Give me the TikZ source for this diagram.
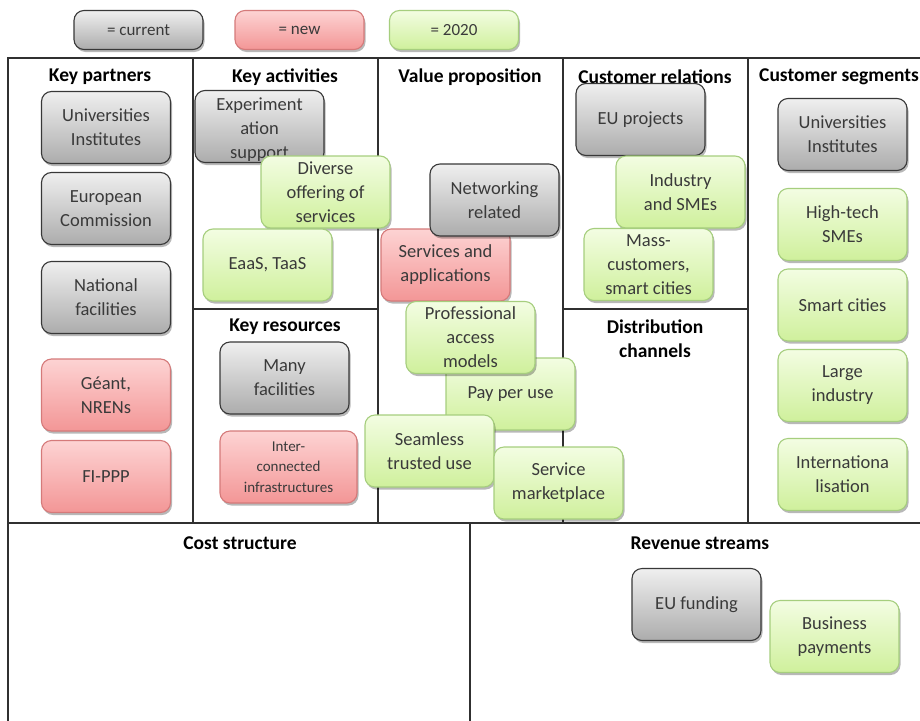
\documentclass[tikz,border=0pt]{standalone}
\usepackage{fontspec}
\setmainfont{Carlito}
\usetikzlibrary{shadows}

\definecolor{gridline}{HTML}{303030}
\definecolor{txt}{HTML}{3A3A3A}
\definecolor{curtop}{HTML}{EFEFEF}
\definecolor{curbot}{HTML}{ACACAC}
\definecolor{curdraw}{HTML}{383838}
\definecolor{newtop}{HTML}{FDD3D3}
\definecolor{newbot}{HTML}{F39696}
\definecolor{newdraw}{HTML}{D57A7A}
\definecolor{futtop}{HTML}{F3FDE2}
\definecolor{futbot}{HTML}{CFF09C}
\definecolor{futdraw}{HTML}{A6CE7E}

\tikzset{
  cardtext/.style={align=center, text=txt, font=\fontsize{18.5}{24}\selectfont},
  card/.style={cardtext, rounded corners=10pt, minimum width=129pt, minimum height=72pt,
    inner sep=2pt, line width=1.1pt,
    drop shadow={shadow xshift=1.5pt, shadow yshift=-2.5pt, opacity=0.28, fill=black}},
  cur/.style={card, draw=curdraw, top color=curtop, bottom color=curbot},
  new/.style={card, draw=newdraw, top color=newtop, bottom color=newbot},
  fut/.style={card, draw=futdraw, top color=futtop, bottom color=futbot},
  legend/.style={minimum height=39pt, font=\fontsize{17}{20}\selectfont},
  head/.style={font=\bfseries\fontsize{19.5}{24}\selectfont, text=black, align=center, inner sep=0pt},
  grid/.style={draw=gridline, line width=1.4pt}
}

\begin{document}
\begin{tikzpicture}[x=1pt, y=-1pt]
\useasboundingbox[fill=white] (0,0) rectangle (920,720);

% legend
\node[cur, legend] (lcur) at (138.5,30) {= current};
\node[new, legend] (lnew) at (299.5,30) {= new};
\node[fut, legend] (lfut) at (454,30) {= 2020};

% canvas frame
\coordinate (tl) at (8,58);
\coordinate (tr) at (925,58);
\coordinate (ml) at (8,523);
\coordinate (mr) at (925,523);
\coordinate (bl) at (8,725);
\draw[grid] (bl) -- (tl) -- (tr);
\draw[grid] (ml) -- (mr);
\draw[grid] (193,58) -- (193,523);
\draw[grid] (378,58) -- (378,523);
\draw[grid] (563,58) -- (563,523);
\draw[grid] (748,58) -- (748,523);
\draw[grid] (193,309) -- (378,309);
\draw[grid] (563,309) -- (748,309);
\draw[grid] (470,523) -- (470,725);

% headings
\node[head] (hkp) at (100,77) {Key partners};
\node[head] (hka) at (285,77) {Key activities};
\node[head] (hvp) at (470,77) {Value proposition};
\node[head] (hcr) at (655,77) {Customer relations};
\node[head, anchor=west] (hcs) at (759,77) {Customer segments};
\node[head] (hkr) at (285,327) {Key resources};
\node[head] (hdc) at (655,339) {Distribution\\channels};
\node[head] (hcost) at (240,543) {Cost structure};
\node[head] (hrev) at (700,543) {Revenue streams};

% key partners
\node[cur] (kp1) at (106,127.5) {Universities\\Institutes};
\node[cur] (kp2) at (106,208.5) {European\\Commission};
\node[cur] (kp3) at (106,297.5) {National\\facilities};
\node[new] (kp4) at (106,395) {Géant,\\NRENs};
\node[new] (kp5) at (106,476.5) {FI-PPP};

% key activities (the first card's text runs low, under the next card)
\node[cur] (ka1) at (259.5,126.5) {};
\node[cardtext] (ka1t) at (259.5,129.5) {Experiment\\ation\\support};
\node[fut] (ka2) at (325.5,192) {Diverse\\offering of\\services};
\node[fut] (ka3) at (267.5,265) {EaaS, TaaS};

% key resources
\node[cur] (kr1) at (284.5,378) {Many\\facilities};
\node[new, minimum width=137pt, font=\fontsize{15}{20.5}\selectfont] (kr2) at (288.5,467) {Inter-\\connected\\infrastructures};

% value proposition
\node[new] (vp1) at (445.5,265) {Services and\\applications};
\node[cur] (vp2) at (494.5,200) {Networking\\related};
\node[fut] (vp3) at (510.5,394) {Pay per use};
\node[fut] (vp4) at (470.5,337.5) {Professional\\access\\models};
\node[fut] (vp5) at (429.5,451) {Seamless\\trusted use};
\node[fut] (vp6) at (558.5,483) {Service\\marketplace};

% customer relations
\node[cur] (cr1) at (640.5,119.5) {EU projects};
\node[fut] (cr2) at (680.5,192) {Industry\\and SMEs};
\node[fut] (cr3) at (648.5,264.5) {Mass-\\customers,\\smart cities};

% customer segments
\node[cur] (cs1) at (842.5,134.5) {Universities\\Institutes};
\node[fut] (cs2) at (842.5,224.5) {High-tech\\SMEs};
\node[fut] (cs3) at (842.5,305) {Smart cities};
\node[fut] (cs4) at (842.5,385.5) {Large\\industry};
\node[fut] (cs5) at (842.5,474.5) {Internationa\\lisation};

% revenue streams
\node[cur] (rs1) at (696.5,604.5) {EU funding};
\node[fut] (rs2) at (834.5,636.5) {Business\\payments};
\end{tikzpicture}
\end{document}
